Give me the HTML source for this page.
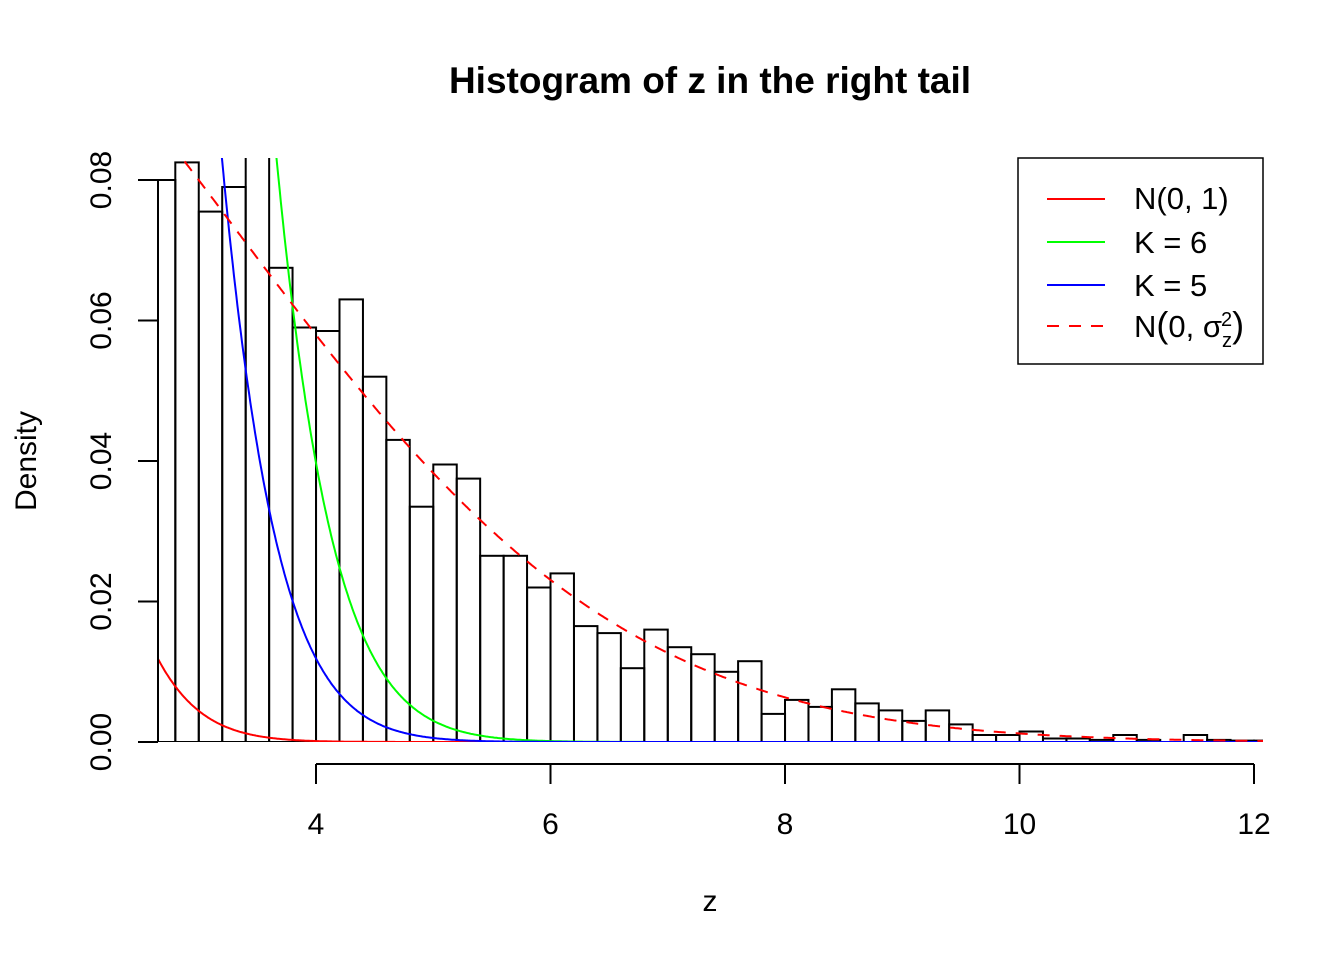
<!DOCTYPE html>
<html><head><meta charset="utf-8"><style>
html,body{margin:0;padding:0;background:#fff;}
svg{display:block;font-family:"Liberation Sans",Arial,sans-serif;}
</style></head><body>
<svg id="s" width="1344" height="960" xmlns="http://www.w3.org/2000/svg">
<defs><clipPath id="c"><rect x="158" y="158" width="1105" height="584"/></clipPath></defs>
<text x="710" y="93" text-anchor="middle" font-size="37" font-weight="bold">Histogram of z in the right tail</text>
<g id="hist" clip-path="url(#c)" fill="none" stroke="#000" stroke-width="2"></g>
<g id="curves" clip-path="url(#c)" fill="none" stroke-width="2"></g>
<g stroke="#000" stroke-width="2" fill="none">
<line x1="316" y1="764" x2="1254" y2="764"/>
<line x1="316" y1="764" x2="316" y2="784"/><line x1="550.5" y1="764" x2="550.5" y2="784"/>
<line x1="785" y1="764" x2="785" y2="784"/><line x1="1019.5" y1="764" x2="1019.5" y2="784"/>
<line x1="1254" y1="764" x2="1254" y2="784"/>
<line x1="158" y1="180" x2="158" y2="742"/>
<line x1="138" y1="742" x2="158" y2="742"/><line x1="138" y1="601.5" x2="158" y2="601.5"/>
<line x1="138" y1="461" x2="158" y2="461"/><line x1="138" y1="320.5" x2="158" y2="320.5"/>
<line x1="138" y1="180" x2="158" y2="180"/>
</g>
<g font-size="30" text-anchor="middle">
<text x="316" y="834">4</text><text x="550.5" y="834">6</text><text x="785" y="834">8</text>
<text x="1019.5" y="834">10</text><text x="1254" y="834">12</text>
<text transform="translate(111,742) rotate(-90)">0.00</text>
<text transform="translate(111,601.5) rotate(-90)">0.02</text>
<text transform="translate(111,461) rotate(-90)">0.04</text>
<text transform="translate(111,320.5) rotate(-90)">0.06</text>
<text transform="translate(111,180) rotate(-90)">0.08</text>
<text x="710" y="911">z</text>
<text transform="translate(36,461) rotate(-90)">Density</text>
</g>
<rect x="1018" y="158" width="245" height="206" fill="#fff" stroke="#000" stroke-width="1.5"/>
<g stroke-width="2">
<line x1="1047" y1="199" x2="1105" y2="199" stroke="#f00"/>
<line x1="1047" y1="242" x2="1105" y2="242" stroke="#0f0"/>
<line x1="1047" y1="285" x2="1105" y2="285" stroke="#00f"/>
<line x1="1047" y1="326" x2="1105" y2="326" stroke="#f00" stroke-dasharray="12,10"/>
</g>
<g font-size="31">
<text x="1134" y="209">N(0, 1)</text>
<text x="1134" y="253">K = 6</text>
<text x="1134" y="296">K = 5</text>
<text x="1134" y="337">N<tspan font-size="36">(</tspan>0, σ<tspan font-size="20" dy="10">z</tspan><tspan font-size="20" dx="-11" dy="-21">2</tspan><tspan font-size="36" dy="11">)</tspan></text>
</g>
</svg>
<script>
var X=function(z){return 316+(z-4)*117.25;},Y=function(d){return 742-d*7025;};
var h=[0.080,0.0825,0.0755,0.079,0.2,0.0675,0.059,0.0585,0.063,0.052,0.043,0.0335,0.0395,0.0375,0.0265,0.0265,0.022,0.024,0.0165,0.0155,0.0105,0.016,0.0135,0.0125,0.010,0.0115,0.004,0.006,0.005,0.0075,0.0055,0.0045,0.003,0.0045,0.0025,0.001,0.001,0.0015,0.0005,0.0005,0.0003,0.001,0.0003,0,0.001,0.0003,0.0002,0.0002,0.0001];
var g=document.getElementById('hist'),s='';
for(var i=0;i<h.length;i++){var z=2.6+0.2*i;s+='<rect x="'+X(z).toFixed(1)+'" y="'+Y(h[i]).toFixed(1)+'" width="23.45" height="'+(h[i]*7025).toFixed(1)+'"/>';}
g.innerHTML=s;
function path(f,col,dash){var p='';for(var z=2.65;z<=12.1;z+=0.01){p+=(p?'L':'M')+X(z).toFixed(1)+','+Math.max(Y(f(z)),100).toFixed(1);}
return '<path d="'+p+'" stroke="'+col+'"'+(dash?' stroke-dasharray="12,10"':'')+'/>';}
var c=document.getElementById('curves');
c.innerHTML=path(function(z){return Math.exp(-z*z/2)/Math.sqrt(2*Math.PI);},'#f00')+
path(function(z){return 3.87*Math.exp(-z*z/3.494);},'#0f0')+
path(function(z){return 2.6*Math.exp(-z*z/2.97);},'#00f')+
path(function(z){var s2=10.86;return Math.exp(-z*z/(2*s2))/Math.sqrt(2*Math.PI*s2);},'#f00',1);
</script>
</body></html>
